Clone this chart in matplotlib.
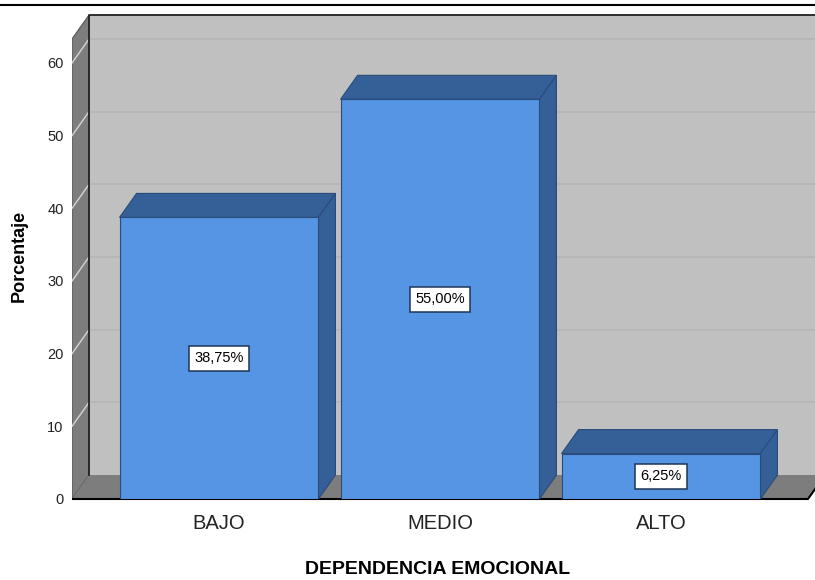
import numpy as np
import matplotlib
matplotlib.use("Agg")
import matplotlib.pyplot as plt
from matplotlib.patches import Polygon
from matplotlib.lines import Line2D

plt.rcParams['font.family'] = ['Liberation Sans', 'DejaVu Sans']

# datos
categorias = ['BAJO', 'MEDIO', 'ALTO']
porcentajes = [38.75, 55.00, 6.25]
etiquetas = ['38,75%', '55,00%', '6,25%']
yticks = [0, 10, 20, 30, 40, 50, 60]

# colores
c_frente = '#5595E3'
c_oscuro = '#355F97'
c_borde = '#2A4C7C'
c_pared = '#C0C0C0'
c_lado = '#7D7D7D'
c_grid = '#B5B5B5'

fig = plt.figure(figsize=(8.15, 5.8), dpi=100)
W, H = 815, 580
# ejes en pixeles: izquierda 72, abajo 499, arriba 15
ax = fig.add_axes([72/W, (H-499)/H, (825-72)/W, (499-15)/H])
ppx = 221.0           # pixeles por categoria
ppy = 436.0/60        # pixeles por unidad de porcentaje
x0 = (72-219)/ppx
xr = (825-219)/ppx
x1 = (808-219)/ppx
ytop = 484/ppy
dx = 17/ppx
dy = 24/ppy
ancho = 0.9

ax.set_xlim(x0, xr)
ax.set_ylim(0, ytop)
for s in ax.spines.values():
    s.set_visible(False)
ax.set_facecolor('none')

# pared del fondo
ax.add_patch(Polygon([(x0+dx, dy), (xr+1, dy), (xr+1, ytop), (x0+dx, ytop)],
                     closed=True, fc=c_pared, ec='none', zorder=1))
for v in yticks[1:]:
    ax.plot([x0+dx, xr+1], [v+dy, v+dy], color=c_grid, lw=1.2, zorder=1.5)

# pared izquierda
ax.add_patch(Polygon([(x0, 0), (x0+dx, dy), (x0+dx, ytop), (x0, ytop-dy)],
                     closed=True, fc=c_lado, ec='#555555', lw=0.8, zorder=2))
for v in yticks[1:]:
    ax.plot([x0, x0+dx], [v, v+dy], color='#D5D5D5', lw=1.0, zorder=2.5)

# piso
ax.add_patch(Polygon([(x0, 0), (x1, 0), (x1+dx, dy), (x0+dx, dy)],
                     closed=True, fc=c_lado, ec='none', zorder=2))
ax.plot([x0, x1, x1+dx], [0, 0, dy], color='black', lw=1.5, zorder=3,
        clip_on=False, solid_capstyle='butt')
ax.plot([x0+dx, x0+dx, xr+1], [dy, ytop, ytop], color='#222222', lw=1.3,
        zorder=3, clip_on=False)

# barras
xpos = np.arange(len(categorias))
ax.bar(xpos, porcentajes, width=ancho, color=c_frente, edgecolor=c_borde,
       linewidth=0.8, zorder=5)
for x, v, et in zip(xpos, porcentajes, etiquetas):
    izq, der = x - ancho/2, x + ancho/2
    ax.add_patch(Polygon([(izq, v), (der, v), (der+dx, v+dy), (izq+dx, v+dy)],
                         closed=True, fc=c_oscuro, ec=c_borde, lw=0.8, zorder=4))
    ax.add_patch(Polygon([(der, 0), (der+dx, dy), (der+dx, v+dy), (der, v)],
                         closed=True, fc=c_oscuro, ec=c_borde, lw=0.8, zorder=4))
    ax.text(x, v/2, et, ha='center', va='center', fontsize=10.5, color='black',
            zorder=6, bbox=dict(boxstyle='square,pad=0.38', fc='white',
                                ec='#1E3555', lw=1.1))

ax.set_xticks(xpos, categorias)
ax.set_yticks(yticks)
ax.tick_params(axis='x', length=0, pad=11, labelsize=14.5, labelcolor='#222222')
ax.tick_params(axis='y', length=0, pad=6, labelsize=10.5, labelcolor='#222222')

fig.text(19/W, 1-256/H, 'Porcentaje', rotation=90, ha='center', va='center',
         fontsize=13, fontweight='bold')
fig.text(438/W, 1-569/H, 'DEPENDENCIA EMOCIONAL', ha='center', va='center',
         fontsize=14, fontweight='bold')

# linea superior
fig.add_artist(Line2D([0, 1], [1-5/H, 1-5/H], color='black', lw=1.5))

fig.savefig('out.png', dpi=100)
